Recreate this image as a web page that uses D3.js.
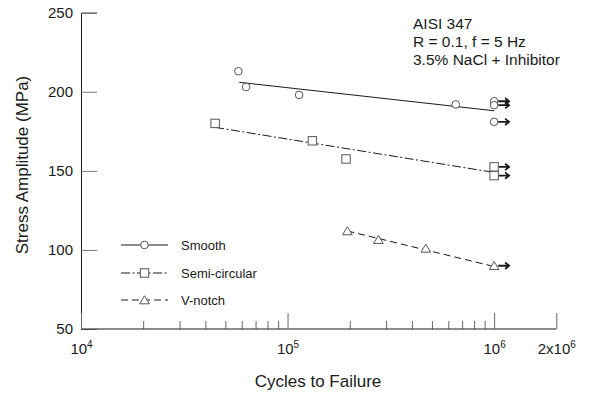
<!DOCTYPE html>
<html>
<head>
<meta charset="utf-8">
<script src="https://cdn.jsdelivr.net/npm/d3@7"></script>
<style>
  html, body { margin: 0; padding: 0; background: #fff; }
  svg { display: block; font-family: "Liberation Sans", Arial, sans-serif; }
</style>
</head>
<body>
<svg id="chart" width="592" height="399"></svg>
<script>
// ---- data ----
const smoothN  = [57800, 63000, 113700, 652000, 1e6, 1e6, 1e6];
const smoothS  = [213, 203, 198, 192, 194, 191.5, 181];
const smoothRun = [false, false, false, false, true, true, true];

const semiN   = [44600, 131900, 191900, 1e6, 1e6];
const semiS   = [180, 169, 157.5, 152.5, 147];
const semiRun = [false, false, false, true, true];

const vN   = [194800, 275300, 466800, 1e6];
const vS   = [112, 106.5, 101, 90];
const vRun = [false, false, false, true];

// fitted S-N lines (end points)
const smoothFitN = [58300, 1e6], smoothFitS = [206, 188];
const semiFitN   = [44600, 1e6], semiFitS   = [177.5, 149];
const vFitN      = [194800, 1e6], vFitS     = [112, 89.5];

const yTicks = [50, 100, 150, 200, 250];
const xMajor = [1e4, 1e5, 1e6, 2e6];
const xMajorLabels = [["10", "4"], ["10", "5"], ["10", "6"], ["2x10", "6"]];
const xMinor = [2e4,3e4,4e4,5e4,6e4,7e4,8e4,9e4,2e5,3e5,4e5,5e5,6e5,7e5,8e5,9e5];

const legendNames = ["Smooth", "Semi-circular", "V-notch"];
const noteLines = ["AISI 347", "R = 0.1, f = 5 Hz", "3.5% NaCl + Inhibitor"];

// ---- scales ----
const svg = d3.select("#chart");
const x = d3.scaleLog().domain([1e4, 2e6]).range([81, 556.3]);
const y = d3.scaleLinear().domain([50, 250]).range([329, 12.7]);

const ink = "#1a1a1a";
const markInk = "#555";

// ---- axes ----
const gy = svg.append("g").attr("transform", `translate(${x(1e4)},0)`)
  .call(d3.axisLeft(y).tickValues(yTicks).tickSize(-16).tickPadding(8));
gy.select(".domain").attr("stroke", ink);
gy.selectAll(".tick line").attr("stroke", "#777");
gy.selectAll(".tick text").attr("font-size", 15).attr("fill", ink);

const gxMinor = svg.append("g").attr("transform", `translate(0,${y(50)})`)
  .call(d3.axisBottom(x).tickValues(xMinor).tickSize(-8).tickFormat(""));
gxMinor.select(".domain").remove();
gxMinor.selectAll(".tick line").attr("stroke", "#666");

const gx = svg.append("g").attr("transform", `translate(0,${y(50)})`)
  .call(d3.axisBottom(x).tickValues(xMajor).tickSize(-16).tickPadding(14).tickFormat(""));
gx.select(".domain").attr("stroke", ink).attr("d", `M${x(1e4)},0H${x(2e6)}`);
gx.selectAll(".tick line").attr("stroke", "#666");
gx.selectAll(".tick text").each(function(d, i) {
  const t = d3.select(this).attr("font-size", 15).attr("fill", ink).attr("dy", "0.71em");
  t.append("tspan").text(xMajorLabels[i][0]);
  t.append("tspan").attr("font-size", 10).attr("dy", -6).text(xMajorLabels[i][1]);
});

// axis titles
svg.append("text").attr("x", 318).attr("y", 387).attr("text-anchor", "middle")
  .attr("font-size", 17).attr("fill", ink).text("Cycles to Failure");
svg.append("text").attr("transform", `translate(28,${165}) rotate(-90)`)
  .attr("text-anchor", "middle").attr("font-size", 17).attr("fill", ink)
  .text("Stress Amplitude (MPa)");

// ---- marker helpers ----
function marker(g, kind, cx, cy) {
  if (kind === "circle") {
    g.append("circle").attr("cx", cx).attr("cy", cy).attr("r", 3.8)
      .attr("fill", "#fff").attr("stroke", markInk).attr("stroke-width", 1);
  } else if (kind === "square") {
    g.append("rect").attr("x", cx - 4.2).attr("y", cy - 4.2).attr("width", 8.4).attr("height", 8.4)
      .attr("fill", "#fff").attr("stroke", markInk).attr("stroke-width", 1);
  } else {
    g.append("path").attr("d", `M${cx},${cy - 4.2}L${cx + 4.8},${cy + 3.8}L${cx - 4.8},${cy + 3.8}Z`)
      .attr("fill", "#fff").attr("stroke", markInk).attr("stroke-width", 1);
  }
}
function arrow(g, cx, cy) {
  const x0 = cx + 4, x1 = cx + 15;
  g.append("path").attr("d", `M${x0},${cy}H${x1}M${x1 - 4},${cy - 3.2}L${x1},${cy}L${x1 - 4},${cy + 3.2}`)
    .attr("fill", "none").attr("stroke", ink).attr("stroke-width", 1.8);
}

const series = [
  { N: smoothN, S: smoothS, run: smoothRun, fitN: smoothFitN, fitS: smoothFitS, kind: "circle", dash: null },
  { N: semiN, S: semiS, run: semiRun, fitN: semiFitN, fitS: semiFitS, kind: "square", dash: "9,2.5,2,2.5" },
  { N: vN, S: vS, run: vRun, fitN: vFitN, fitS: vFitS, kind: "triangle", dash: "7,4" }
];

const line = d3.line().x(d => x(d[0])).y(d => y(d[1]));

series.forEach(s => {
  const g = svg.append("g");
  g.append("path").datum(s.fitN.map((n, i) => [n, s.fitS[i]]))
    .attr("d", line).attr("fill", "none").attr("stroke", ink).attr("stroke-width", 1)
    .attr("stroke-dasharray", s.dash);
  s.N.forEach((n, i) => {
    if (s.run[i]) arrow(g, x(n), y(s.S[i]));
  });
  s.N.forEach((n, i) => marker(g, s.kind, x(n), y(s.S[i])));
});

// ---- legend ----
const legendY = [245, 273, 300];
series.forEach((s, i) => {
  const g = svg.append("g");
  g.append("line").attr("x1", 121).attr("x2", 168).attr("y1", legendY[i]).attr("y2", legendY[i])
    .attr("stroke", ink).attr("stroke-width", 1).attr("stroke-dasharray", s.dash);
  marker(g, s.kind, 144.5, legendY[i]);
  g.append("text").attr("x", 181).attr("y", legendY[i]).attr("dy", "0.35em")
    .attr("font-size", 13).attr("fill", ink).text(legendNames[i]);
});

// ---- test conditions note ----
noteLines.forEach((t, i) => {
  svg.append("text").attr("x", 413).attr("y", 24 + i * 18).attr("dy", "0.35em")
    .attr("font-size", 15.5).attr("fill", ink).text(t);
});
</script>
</body>
</html>
